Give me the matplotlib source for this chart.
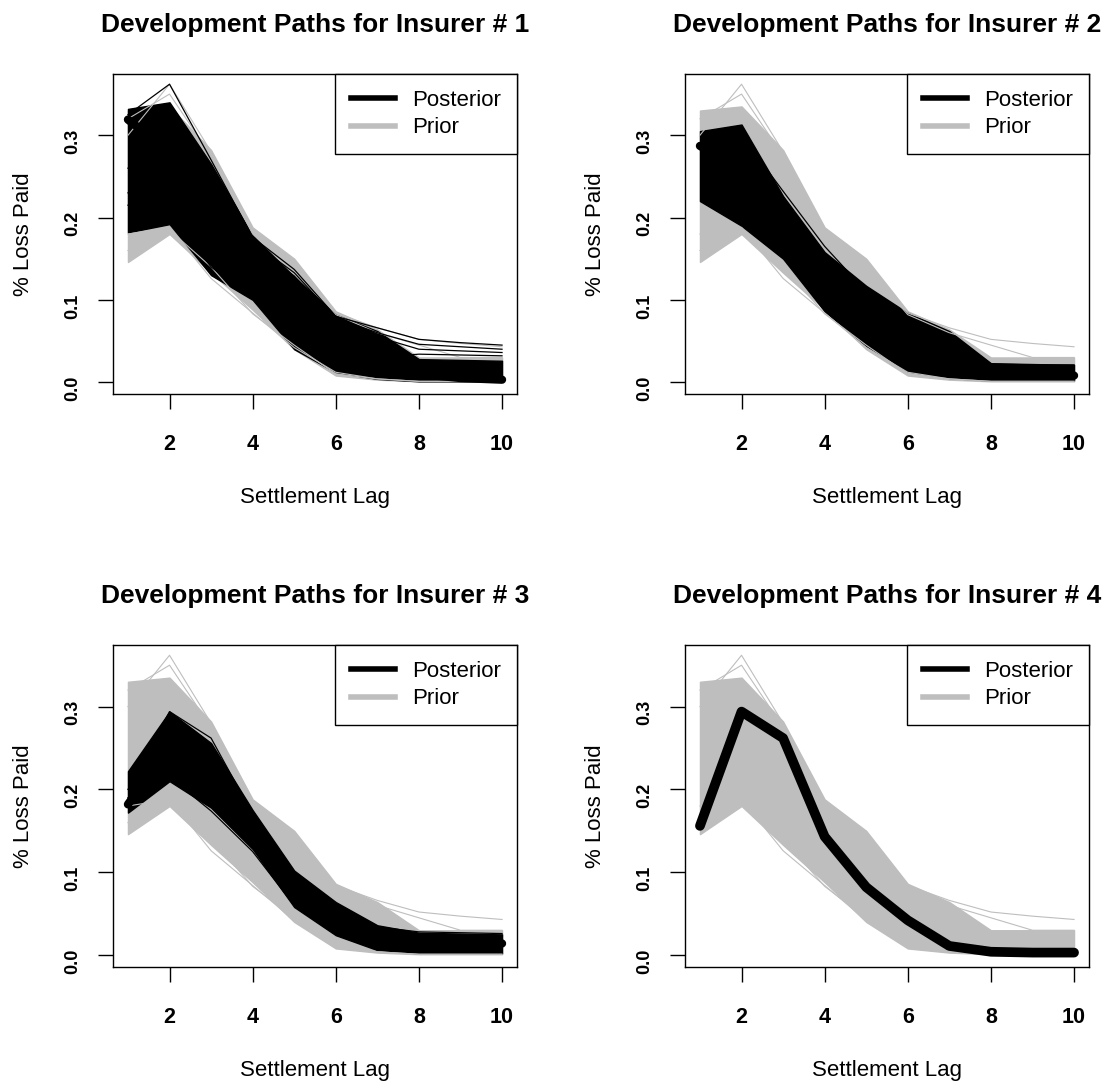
import matplotlib.pyplot as plt
from matplotlib.lines import Line2D

LAGS = [1, 2, 3, 4, 5, 6, 7, 8, 9, 10]

# prior paths (same in every panel): envelope plus a few stray paths
PRIOR_LOW = [0.146, 0.180, 0.133, 0.088, 0.040, 0.008, 0.003, 0.001, 0.001, 0.001]
PRIOR_HIGH = [0.330, 0.335, 0.282, 0.188, 0.150, 0.086, 0.064, 0.030, 0.030, 0.030]
PRIOR_STRAY = [
    [0.300, 0.362, 0.280, 0.185, 0.145, 0.084, 0.066, 0.052, 0.047, 0.043],
    [0.320, 0.350, 0.275, 0.180, 0.140, 0.082, 0.060, 0.045, 0.030, 0.030],
    [0.180, 0.188, 0.126, 0.084, 0.042, 0.012, 0.004, 0.001, 0.001, 0.001],
    [0.160, 0.185, 0.140, 0.083, 0.045, 0.010, 0.004, 0.001, 0.001, 0.001],
]

# posterior envelopes per insurer
POST_LOW = [
    [0.182, 0.192, 0.130, 0.100, 0.040, 0.012, 0.004, 0.001, 0.001, 0.001],
    [0.220, 0.190, 0.150, 0.086, 0.044, 0.013, 0.005, 0.002, 0.002, 0.002],
    [0.172, 0.210, 0.178, 0.128, 0.058, 0.024, 0.006, 0.002, 0.002, 0.002],
    None,
]
POST_HIGH = [
    [0.332, 0.340, 0.265, 0.178, 0.128, 0.082, 0.062, 0.028, 0.027, 0.026],
    [0.305, 0.313, 0.226, 0.158, 0.117, 0.084, 0.062, 0.023, 0.022, 0.021],
    [0.222, 0.294, 0.256, 0.175, 0.102, 0.064, 0.036, 0.027, 0.026, 0.025],
    None,
]
POST_STRAY = [
    [
        [0.325, 0.362, 0.270, 0.176, 0.137, 0.080, 0.066, 0.052, 0.048, 0.045],
        [0.260, 0.300, 0.262, 0.170, 0.133, 0.078, 0.060, 0.046, 0.043, 0.040],
        [0.230, 0.250, 0.255, 0.165, 0.129, 0.075, 0.055, 0.040, 0.038, 0.036],
        [0.215, 0.205, 0.140, 0.102, 0.060, 0.040, 0.030, 0.034, 0.033, 0.032],
    ],
    [
        [0.290, 0.300, 0.232, 0.165, 0.110, 0.070, 0.058, 0.022, 0.021, 0.021],
    ],
    [
        [0.200, 0.294, 0.262, 0.170, 0.098, 0.060, 0.034, 0.028, 0.027, 0.026],
        [0.190, 0.215, 0.174, 0.125, 0.060, 0.030, 0.010, 0.004, 0.004, 0.004],
    ],
    [],
]
# thick highlighted path per insurer
POST_MAIN = [
    [0.319, 0.280, 0.210, 0.140, 0.090, 0.045, 0.030, 0.010, 0.005, 0.003],
    [0.287, 0.260, 0.190, 0.125, 0.080, 0.045, 0.030, 0.010, 0.008, 0.008],
    [0.182, 0.250, 0.215, 0.150, 0.080, 0.040, 0.018, 0.012, 0.013, 0.014],
    [0.156, 0.294, 0.262, 0.143, 0.082, 0.042, 0.011, 0.004, 0.003, 0.003],
]

X_TICKS = [2, 4, 6, 8, 10]
Y_TICKS = [0.0, 0.1, 0.2, 0.3]
GREY = "#bebebe"

plt.rcParams["font.family"] = ["Liberation Sans", "DejaVu Sans"]

fig = plt.figure(figsize=(11.14, 10.82), dpi=100)
W, H = 1114, 1082
# axes boxes in pixels: left, top, right, bottom
boxes = [(113, 74, 517, 394), (685, 74, 1089, 394),
         (113, 645, 517, 967), (685, 645, 1089, 967)]

for i, (l, t, r, b) in enumerate(boxes):
    ax = fig.add_axes([l / W, 1 - b / H, (r - l) / W, (b - t) / H])

    ax.fill_between(LAGS, PRIOR_LOW, PRIOR_HIGH, color=GREY, lw=1)
    for path in PRIOR_STRAY:
        ax.plot(LAGS, path, color=GREY, lw=0.8)

    if POST_LOW[i] is not None:
        ax.fill_between(LAGS, POST_LOW[i], POST_HIGH[i], color="black", lw=1)
        for path in POST_STRAY[i]:
            ax.plot(LAGS, path, color="black", lw=0.9)
        ax.plot(LAGS, POST_MAIN[i], color="black", lw=6, solid_capstyle="round")
    else:
        ax.plot(LAGS, POST_MAIN[i], color="black", lw=7,
                solid_capstyle="round", solid_joinstyle="round")

    ax.set_xlim(0.64, 10.36)
    ax.set_ylim(-0.0144, 0.3744)
    ax.set_xticks(X_TICKS)
    ax.set_xticklabels([str(v) for v in X_TICKS])
    ax.set_yticks(Y_TICKS)
    ax.set_yticklabels([f"{v:.1f}" for v in Y_TICKS])
    ax.tick_params(length=10.5, width=1, color="black")
    ax.tick_params(axis="x", pad=18, labelsize=15.5)
    ax.tick_params(axis="y", pad=12, labelsize=13, labelrotation=90)
    for lab in ax.get_xticklabels() + ax.get_yticklabels():
        lab.set_fontweight("bold")
    for sp in ax.spines.values():
        sp.set_linewidth(1)

    ax.set_title(f"Development Paths for Insurer # {i + 1}", fontsize=19,
                 fontweight="bold", pad=30)
    ax.set_xlabel("Settlement Lag", fontsize=16, labelpad=23)
    ax.set_ylabel("% Loss Paid", fontsize=16, labelpad=22)

    handles = [Line2D([], [], color="black", lw=4),
               Line2D([], [], color=GREY, lw=4)]
    leg = ax.legend(handles, ["Posterior", "Prior"], loc="upper right",
                    fontsize=16, frameon=True, fancybox=False,
                    borderaxespad=0, handlelength=2.0, handletextpad=0.75,
                    labelspacing=0.29, borderpad=0.72)
    leg.get_frame().set_edgecolor("black")
    leg.get_frame().set_linewidth(1)
    leg.get_frame().set_alpha(1)

fig.savefig("out.png", dpi=100)
